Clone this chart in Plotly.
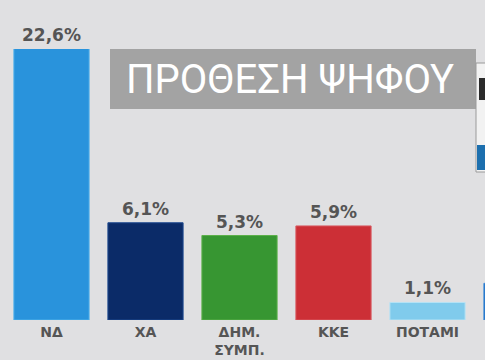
import plotly.graph_objects as go

parties = ["ΝΔ", "ΧΑ", "ΔΗΜ.<br>ΣΥΜΠ.", "ΚΚΕ", "ΠΟΤΑΜΙ", "ΕΝ. ΚΕΝΤΡΩΝ"]
values = [22.6, 6.1, 5.3, 5.9, 1.1, 2.3]
value_labels = ["22,6%", "6,1%", "5,3%", "5,9%", "1,1%", "2,3%"]
colors = ["#2993dc", "#0b2b68", "#379632", "#cc2f36", "#80cbec", "#1e6fc4"]
line_colors = ["#4fb0ea", "#1f4a90", "#5cb04a", "#d85a60", "#b6e2f5", "#3c8ad8"]

Y_MAX = 17.0  # visible part of the value axis

fig = go.Figure()
fig.add_trace(go.Bar(
    x=parties,
    y=values,
    width=0.8,
    marker=dict(color=colors, line=dict(color=line_colors, width=1)),
    hoverinfo="skip",
))

# value labels above bars (capped at the top of the visible axis)
for p, v, t in zip(parties, values, value_labels):
    fig.add_annotation(
        x=p, y=min(v, Y_MAX), text=t, showarrow=False,
        yanchor="bottom", yshift=2,
        font=dict(family="DejaVu Sans", size=17, color="#555555", weight="bold"),
    )

# title panel
fig.add_shape(type="rect", xref="paper", yref="paper",
              x0=110/485, x1=476/485, y0=1-60/271, y1=1.0,
              fillcolor="#a3a3a3", line=dict(width=0), layer="above")
fig.add_annotation(
    xref="paper", yref="paper", x=290/485, y=1-30/271,
    text="ΠΡΟΘΕΣΗ ΨΗΦΟΥ", showarrow=False,
    font=dict(family="Roboto", size=40, color="#ffffff"),
    xanchor="center", yanchor="middle",
)

# logo card at right edge
fig.add_shape(type="rect", xref="paper", yref="paper",
              x0=476/485, x1=1.02, y0=1-123/271, y1=1-14/271,
              fillcolor="#f2f2f2", line=dict(color="#9a9a9a", width=1), layer="above")
fig.add_shape(type="rect", xref="paper", yref="paper",
              x0=479/485, x1=1.01, y0=1-51/271, y1=1-29/271,
              fillcolor="#2b2b2b", line=dict(width=0), layer="above")
fig.add_shape(type="rect", xref="paper", yref="paper",
              x0=477/485, x1=1.01, y0=1-121/271, y1=1-96/271,
              fillcolor="#1c6fae", line=dict(width=0), layer="above")

fig.update_layout(
    width=485, height=360,
    margin=dict(l=0, r=0, t=49, b=40),
    paper_bgcolor="#e0e0e2",
    plot_bgcolor="rgba(0,0,0,0)",
    showlegend=False,
    bargap=0.2,
)
fig.update_xaxes(
    range=[-51.5/94, -51.5/94 + 485/94],
    showgrid=False, zeroline=False, showline=False, ticks="",
    tickfont=dict(family="DejaVu Sans", size=14, color="#555555", weight="bold"),
    ticklabelstandoff=2, automargin=False,
)
fig.update_yaxes(range=[0, Y_MAX], visible=False, showgrid=False, zeroline=False,
                 automargin=False)

fig.write_html("out.html")
